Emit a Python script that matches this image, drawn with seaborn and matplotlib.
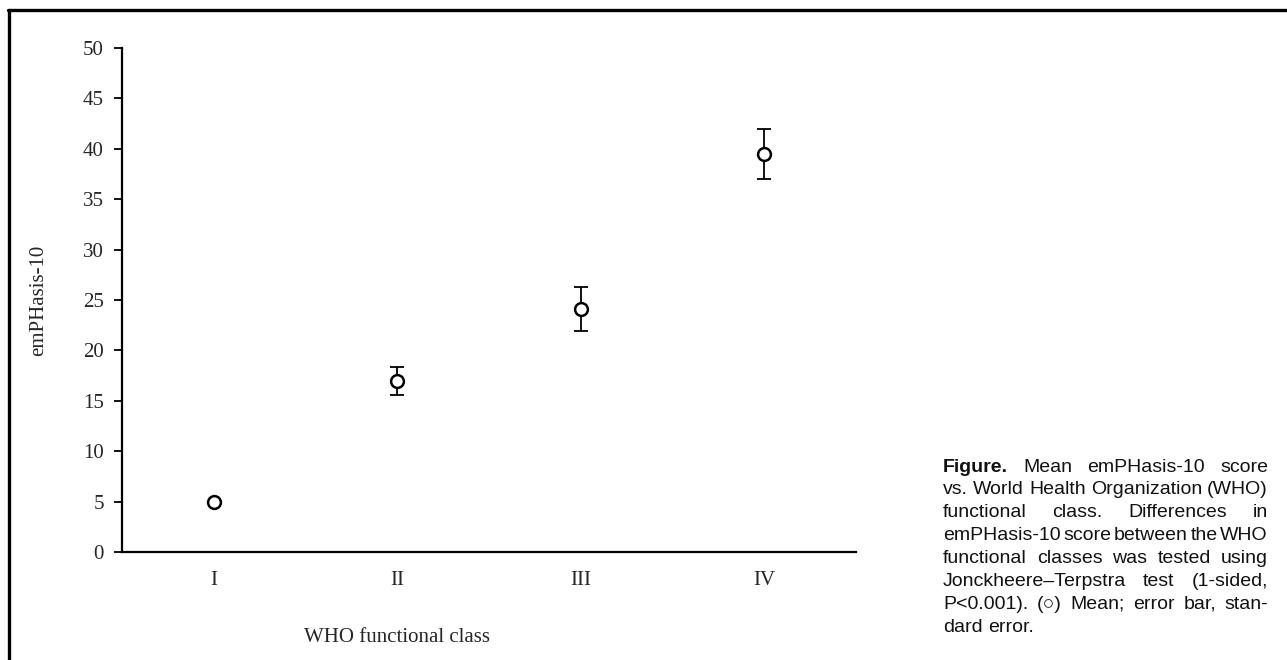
import seaborn as sns
import pandas as pd
import matplotlib.pyplot as plt
from matplotlib.lines import Line2D

# data
classes = ['I', 'II', 'III', 'IV']
means = [5.0, 17.0, 24.1, 39.5]
errors = [0.0, 1.4, 2.15, 2.5]
y_ticks = list(range(0, 51, 5))

caption_lines = [
    'Figure.  Mean emPHasis-10 score',
    'vs. World Health Organization (WHO)',
    'functional class. Differences in',
    'emPHasis-10 score between the WHO',
    'functional classes was tested using',
    'Jonckheere\u2013Terpstra test (1-sided,',
    'P<0.001). (\u25cb) Mean; error bar, stan-',
    'dard error.',
]

sns.set_style('white')
plt.rcParams['font.family'] = ['Liberation Serif', 'DejaVu Serif']

W, H = 1287, 660
fig = plt.figure(figsize=(W / 100, H / 100), dpi=100)
ax_l, ax_r = 122, 856
ax = fig.add_axes([ax_l / W, 1 - 552 / H, (ax_r - ax_l) / W, (552 - 48) / H])

df = pd.DataFrame({'cls': classes, 'mean': means, 'err': errors})
ax.errorbar(range(len(classes)), df['mean'], yerr=df['err'], fmt='none',
            ecolor='black', elinewidth=1.3, capsize=5, capthick=1.3, zorder=2)
sns.scatterplot(data=df, x='cls', y='mean', ax=ax, s=85, marker='o',
                facecolor='white', edgecolor='black', linewidth=1.8, zorder=3)

ax.set_xlim(-0.5, 3.5)
ax.set_ylim(0, 50)
ax.set_yticks(y_ticks)
ax.tick_params(axis='y', length=6, width=1.3, direction='out', left=True,
               labelsize=15, pad=7, color='black')
ax.tick_params(axis='x', length=0, labelsize=15, pad=14)
for s in ['top', 'right']:
    ax.spines[s].set_visible(False)
for s in ['left', 'bottom']:
    ax.spines[s].set_color('black')
    ax.spines[s].set_linewidth(1.6)
ax.set_xlabel('WHO functional class', fontsize=15)
ax.xaxis.set_label_coords((397 - ax_l) / (ax_r - ax_l), -0.15)
ax.set_ylabel('emPHasis-10', fontsize=15)
ax.yaxis.set_label_coords(-0.101, 0.5)

# page frame
fig.add_artist(Line2D([8 / W, 1], [1 - 10 / H, 1 - 10 / H], color='black',
                      lw=2.4, transform=fig.transFigure))
fig.add_artist(Line2D([8.5 / W, 8.5 / W], [0, 1 - 10 / H], color='black',
                      lw=2.4, transform=fig.transFigure))

# justified caption
x0, x1 = 943, 1268
y0, dy = 467, 22.9
sans = ['Liberation Sans', 'DejaVu Sans']
fig.canvas.draw()
renderer = fig.canvas.get_renderer()
for i, line in enumerate(caption_lines):
    words = line.split()
    y = 1 - (y0 + i * dy) / H
    arts = []
    for j, w in enumerate(words):
        bold = (i == 0 and j == 0)
        t = fig.text(0, y, w, family=sans, fontsize=14,
                     weight='bold' if bold else 'normal', va='center',
                     ha='left', color='#111111')
        arts.append(t)
    widths = [t.get_window_extent(renderer).width for t in arts]
    if i < len(caption_lines) - 1 and len(words) > 1:
        gap = (x1 - x0 - sum(widths)) / (len(words) - 1)
    else:
        gap = arts[0].get_fontsize() * 100 / 72 * 0.28
    x = x0
    for t, wd in zip(arts, widths):
        t.set_x(x / W)
        x += wd + gap

fig.savefig('out.png', dpi=100)
